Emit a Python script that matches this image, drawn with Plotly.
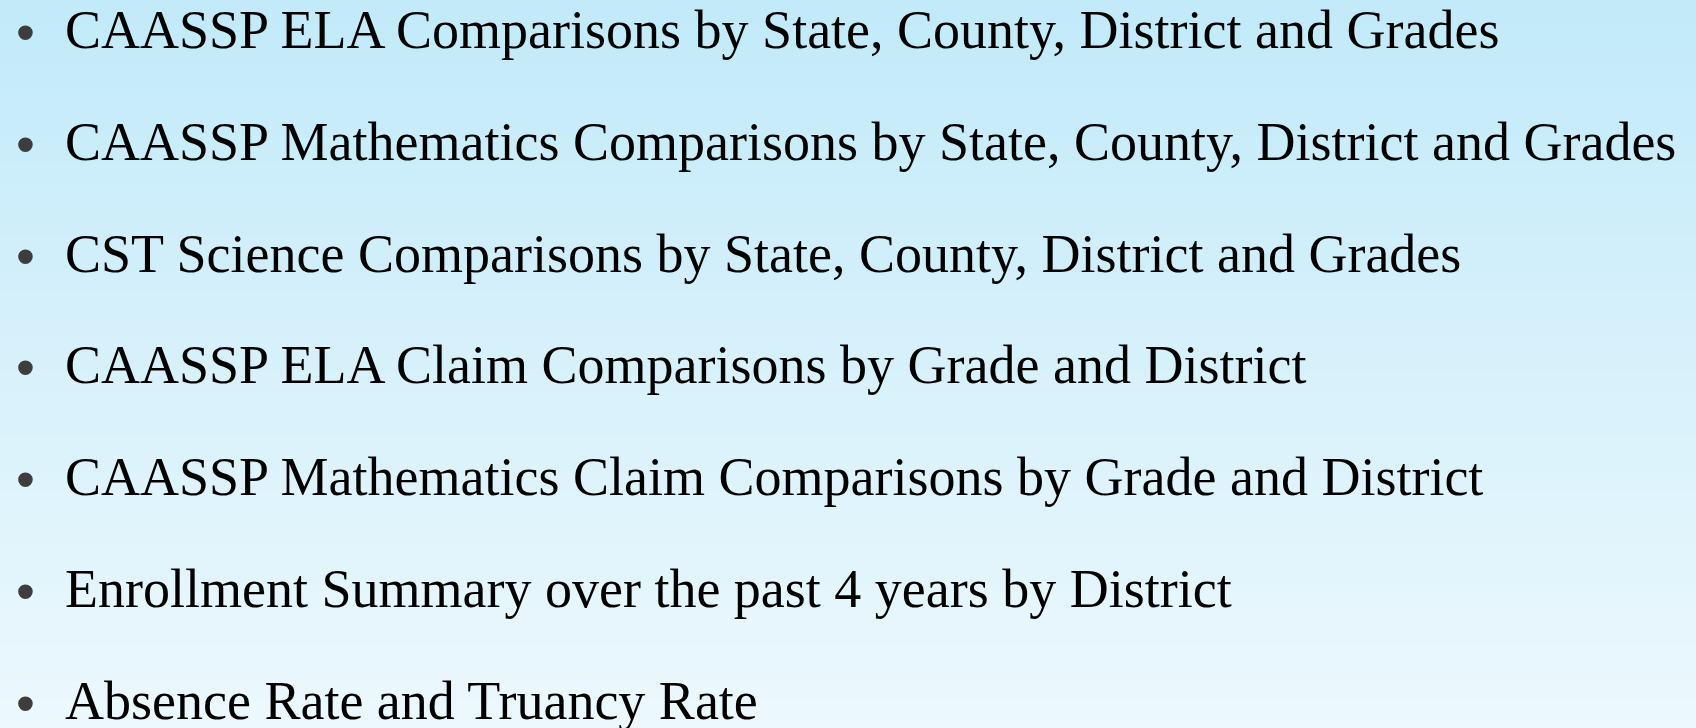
import plotly.graph_objects as go

items = [
    "CAASSP ELA Comparisons by State, County, District and Grades",
    "CAASSP Mathematics Comparisons by State, County, District and Grades",
    "CST Science Comparisons by State, County, District and Grades",
    "CAASSP ELA Claim Comparisons by Grade and District",
    "CAASSP Mathematics Claim Comparisons by Grade and District",
    "Enrollment Summary over the past 4 years by District",
    "Absence Rate and Truancy Rate",
]

W, H = 1696, 728
top_rgb = (194, 234, 249)
bot_rgb = (236, 248, 253)

fig = go.Figure()
shapes = []
n = 80
for i in range(n):
    t = i / (n - 1)
    c = tuple(round(top_rgb[k] + (bot_rgb[k] - top_rgb[k]) * t) for k in range(3))
    shapes.append(dict(type="rect", xref="paper", yref="paper",
                       x0=0, x1=1, y0=1 - (i + 1) / n, y1=1 - i / n + 0.001,
                       fillcolor="rgb(%d,%d,%d)" % c, line=dict(width=0), layer="below"))

annotations = []
y0 = 30
step = 111.8
for i, txt in enumerate(items):
    yc = y0 + i * step
    annotations.append(dict(x=25 / W, y=1 - (yc + 2) / H, xref="paper", yref="paper", text="•",
                            showarrow=False, xanchor="center", yanchor="middle",
                            font=dict(family="Liberation Sans", size=54, color="#3d3d3d")))
    annotations.append(dict(x=63 / W, y=1 - (yc) / H, xref="paper", yref="paper", text=txt,
                            showarrow=False, xanchor="left", yanchor="middle",
                            font=dict(family="Liberation Serif", size=54, color="#000000")))

fig.update_layout(width=W, height=H, margin=dict(l=0, r=0, t=0, b=0),
                  paper_bgcolor="rgb(236,248,253)", plot_bgcolor="rgba(0,0,0,0)",
                  xaxis=dict(visible=False, range=[0, 1]), yaxis=dict(visible=False, range=[0, 1]),
                  shapes=shapes, annotations=annotations, showlegend=False)
fig.write_html("out.html", config={"displayModeBar": False},
               post_script="document.body.style.margin='0';document.body.style.overflow='hidden';")
